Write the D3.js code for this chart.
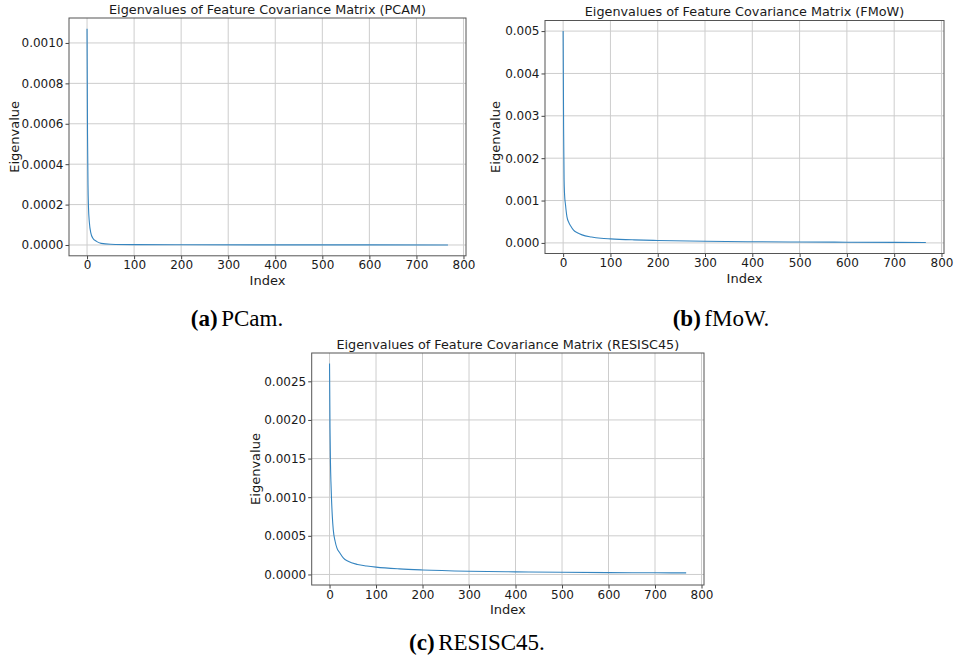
<!DOCTYPE html>
<html>
<head>
<meta charset="utf-8">
<script src="https://cdn.jsdelivr.net/npm/d3@7"></script>
<style>
  body { margin: 0; background: #fff; }
  svg { display: block; }
</style>
</head>
<body>
<div id="chart"></div>
<script>
// eigenvalue spectra (index -> eigenvalue)
const pcamIndex = [0, 1, 2, 3, 5, 8, 12, 20, 30, 50, 100, 200, 400, 600, 767];
const pcamValues = [0.00107, 0.00055, 0.00030, 0.00019, 0.00011, 0.00006, 0.000035, 0.000018,
  0.000008, 0.000004, 0.000002, 0.0000012, 0.0000007, 0.0000004, 0.0000002];

const fmowIndex = [0, 1, 2, 3, 5, 8, 12, 16, 22, 30, 40, 60, 80, 100, 150, 200, 300, 400, 500, 600, 700, 767];
const fmowValues = [0.0050, 0.0027, 0.0015, 0.00115, 0.00090, 0.00062, 0.00048, 0.00040, 0.00030,
  0.00024, 0.00019, 0.00014, 0.00011, 0.000095, 0.000072, 0.000058, 0.000038, 0.000028,
  0.000022, 0.000017, 0.000013, 0.000010];

const resiscIndex = [0, 1, 2, 3, 4, 6, 8, 12, 16, 22, 30, 40, 60, 80, 100, 150, 200, 300, 400, 500, 600, 700, 767];
const resiscValues = [0.00273, 0.0019, 0.00145, 0.0012, 0.00102, 0.00075, 0.00058, 0.00043, 0.00034,
  0.00028, 0.00021, 0.00017, 0.00013, 0.00011, 0.000095, 0.000072, 0.000058, 0.000042,
  0.000034, 0.000028, 0.000024, 0.000022, 0.00002];

const xTicks = [0, 100, 200, 300, 400, 500, 600, 700, 800];
const pcamTicks = [0, 0.0002, 0.0004, 0.0006, 0.0008, 0.0010];
const fmowTicks = [0, 0.001, 0.002, 0.003, 0.004, 0.005];
const resiscTicks = [0, 0.0005, 0.0010, 0.0015, 0.0020, 0.0025];

const W = 954, H = 658;
const svg = d3.select("#chart").append("svg")
  .attr("width", W).attr("height", H)
  .style("background", "#fff");

const panels = [
  { title: "Eigenvalues of Feature Covariance Matrix (PCAM)", idx: pcamIndex, vals: pcamValues,
    ticks: pcamTicks, fmt: ".4f", box: { l: 69, r: 466, t: 18, b: 255.8 }, ylab: 49.7,
    caption: ["(a)", "PCam."], cap: { x: 237, y: 326 } },
  { title: "Eigenvalues of Feature Covariance Matrix (FMoW)", idx: fmowIndex, vals: fmowValues,
    ticks: fmowTicks, fmt: ".3f", box: { l: 545, r: 944, t: 20.5, b: 253.5 }, ylab: 45.5,
    caption: ["(b)", "fMoW."], cap: { x: 721, y: 326 } },
  { title: "Eigenvalues of Feature Covariance Matrix (RESISC45)", idx: resiscIndex, vals: resiscValues,
    ticks: resiscTicks, fmt: ".4f", box: { l: 311.7, r: 704, t: 353, b: 585 }, ylab: 51.7,
    caption: ["(c)", "RESISC45."], cap: { x: 477, y: 650 } }
];

const font = "'DejaVu Sans', sans-serif";

function drawPanel(p) {
  const { l, r, t, b } = p.box;
  const data = p.idx.map((d, i) => ({ i: d, v: p.vals[i] }));

  const xMax = d3.max(p.idx), yMax = d3.max(p.vals);
  const x = d3.scaleLinear().domain([-0.05 * xMax, xMax * 1.05]).range([l, r]);
  const y = d3.scaleLinear().domain([-0.05 * yMax, yMax * 1.05]).range([b, t]);

  const g = svg.append("g");

  // grid
  g.append("g").selectAll("line").data(xTicks).join("line")
    .attr("x1", d => x(d)).attr("x2", d => x(d))
    .attr("y1", t).attr("y2", b)
    .attr("stroke", "#cdcdcd").attr("stroke-width", 1);
  g.append("g").selectAll("line").data(p.ticks).join("line")
    .attr("x1", l).attr("x2", r)
    .attr("y1", d => y(d)).attr("y2", d => y(d))
    .attr("stroke", "#cdcdcd").attr("stroke-width", 1);

  // line
  const line = d3.line().x(d => x(d.i)).y(d => y(d.v)).curve(d3.curveMonotoneX);
  g.append("path").datum(data)
    .attr("d", line)
    .attr("fill", "none")
    .attr("stroke", "#3585c0")
    .attr("stroke-width", 1.1);

  // axes
  const xAxis = d3.axisBottom(x).tickValues(xTicks).tickFormat(d3.format("d"))
    .tickSizeInner(3.5).tickSizeOuter(0).tickPadding(1.5);
  const yAxis = d3.axisLeft(y).tickValues(p.ticks).tickFormat(d3.format(p.fmt))
    .tickSizeInner(3.5).tickSizeOuter(0).tickPadding(2);

  const gx = g.append("g").attr("transform", `translate(0,${b})`).call(xAxis);
  const gy = g.append("g").attr("transform", `translate(${l},0)`).call(yAxis);
  [gx, gy].forEach(a => {
    a.select(".domain").remove();
    a.selectAll("line").attr("stroke", "#444");
    a.selectAll("text").attr("fill", "#1a1a1a").style("font", `12px ${font}`);
  });

  // frame
  g.append("rect")
    .attr("x", l).attr("y", t).attr("width", r - l).attr("height", b - t)
    .attr("fill", "none").attr("stroke", "#555").attr("stroke-width", 1);

  // title and labels
  g.append("text")
    .attr("x", (l + r) / 2).attr("y", t - 4.5)
    .attr("text-anchor", "middle")
    .style("font", `12.8px ${font}`).attr("fill", "#1a1a1a")
    .text(p.title);

  g.append("text")
    .attr("x", (l + r) / 2).attr("y", b + 29)
    .attr("text-anchor", "middle")
    .style("font", `13px ${font}`).attr("fill", "#1a1a1a")
    .text("Index");

  g.append("text")
    .attr("transform", `translate(${l - p.ylab},${(t + b) / 2}) rotate(-90)`)
    .attr("text-anchor", "middle")
    .style("font", `13px ${font}`).attr("fill", "#1a1a1a")
    .text("Eigenvalue");

  // caption
  const cap = svg.append("text")
    .attr("x", p.cap.x).attr("y", p.cap.y)
    .attr("text-anchor", "middle")
    .style("font-family", "'Liberation Serif', 'Times New Roman', serif")
    .style("font-size", "23px")
    .attr("fill", "#000");
  cap.append("tspan").style("font-weight", "bold").text(p.caption[0]);
  cap.append("tspan").attr("dx", 3.5).text(p.caption[1]);
}

panels.forEach(drawPanel);
</script>
</body>
</html>
